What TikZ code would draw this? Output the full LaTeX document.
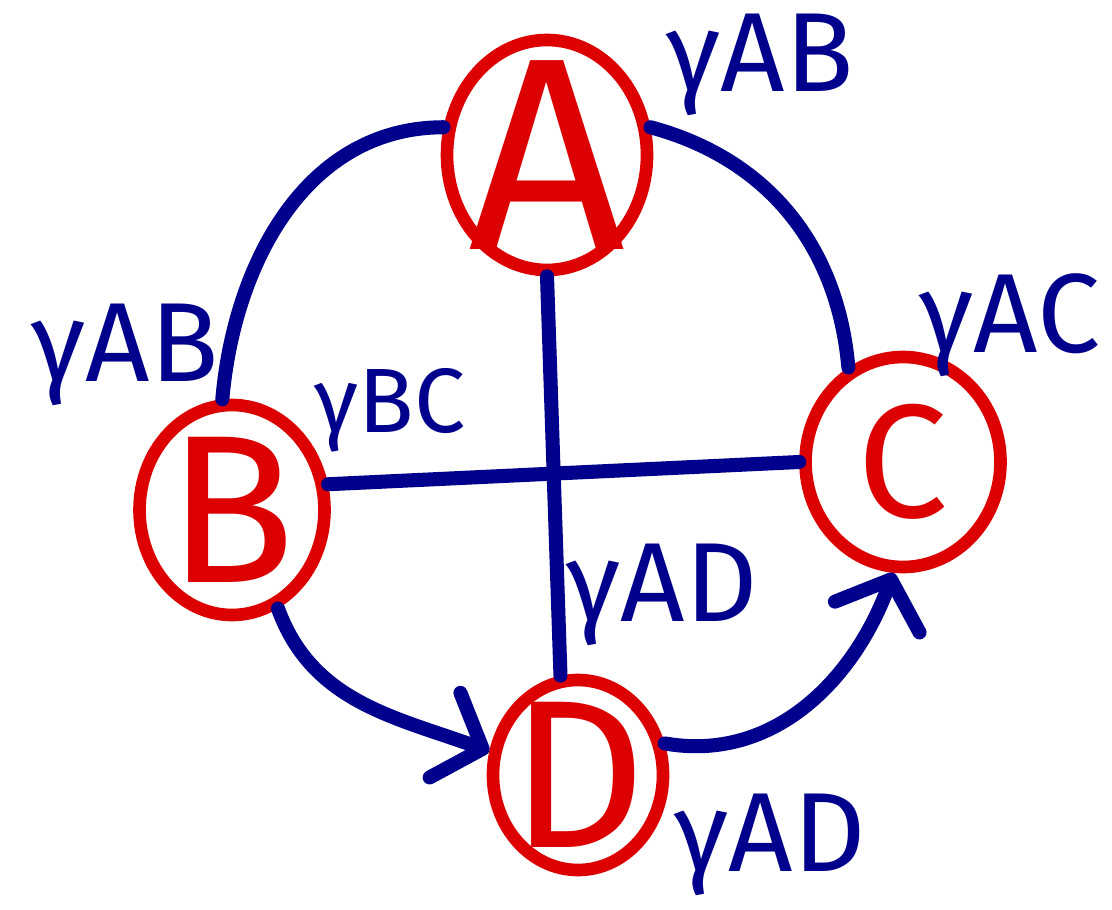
\documentclass[tikz,border=0pt]{standalone}
\usepackage{fontspec}
\setmainfont{Fira Sans}
\usetikzlibrary{arrows.meta,positioning,shapes.geometric}
\definecolor{penred}{RGB}{220,0,0}
\definecolor{penblue}{RGB}{0,0,140}
\tikzset{
  station/.style={
    ellipse,
    draw=penred,
    line width=3.6pt,
    inner sep=0pt
  },
  letter/.style={
    text=penred,
    font=\fontsize{60}{62}\selectfont
  },
  weight/.style={
    text=penblue,
    inner sep=0pt,
    font=\fontsize{32}{34}\selectfont
  },
  link/.style={
    draw=penblue,
    line width=4pt,
    line cap=round
  },
  hop/.style={
    link,
    -{Straight Barb[length=4mm,width=9mm,round]}
  }
}

\begin{document}
\begin{tikzpicture}
\useasboundingbox (0,0) rectangle (11.12,9.09);

\node[station, minimum width=2cm, minimum height=2.3cm,
  label={[letter, font=\fontsize{78}{80}\selectfont]center:A}] (A) at (5.47,7.54) {};
\node[station, minimum width=1.85cm, minimum height=2.1cm,
  label={[letter]center:B}] (B) at (2.32,3.99) {};
\node[station, minimum width=1.95cm, minimum height=2.1cm,
  label={[letter, font=\fontsize{46}{48}\selectfont]center:C}] (C) at (9.03,4.47) {};
\node[station, minimum width=1.7cm, minimum height=1.9cm,
  label={[letter]center:D}] (D) at (5.78,1.34) {};

\node[weight] (wABtop) at (7.60,8.44) {γAB};
\node[weight] (wABleft) at (1.25,5.54) {γAB};
\node[weight] (wAC) at (10.10,5.84) {γAC};
\node[weight, font=\fontsize{26}{28}\selectfont] (wBC) at (3.90,4.99) {γBC};
\node[weight] (wADmid) at (6.62,3.14) {γAD};
\node[weight] (wADlow) at (7.70,0.64) {γAD};

\draw[link] (A.165) to[out=180, in=85] (B.95);
\draw[link] (A.15) to[out=-15, in=95] (C.120);
\draw[link] (A.south) -- (D.100);
\draw[link] (B.15) -- (C.west);
\draw[hop] (B.-65) to[out=-70, in=160] (D.165);
\draw[hop] (D.20) to[out=-10, in=-110] (C.-95);
\end{tikzpicture}
\end{document}
